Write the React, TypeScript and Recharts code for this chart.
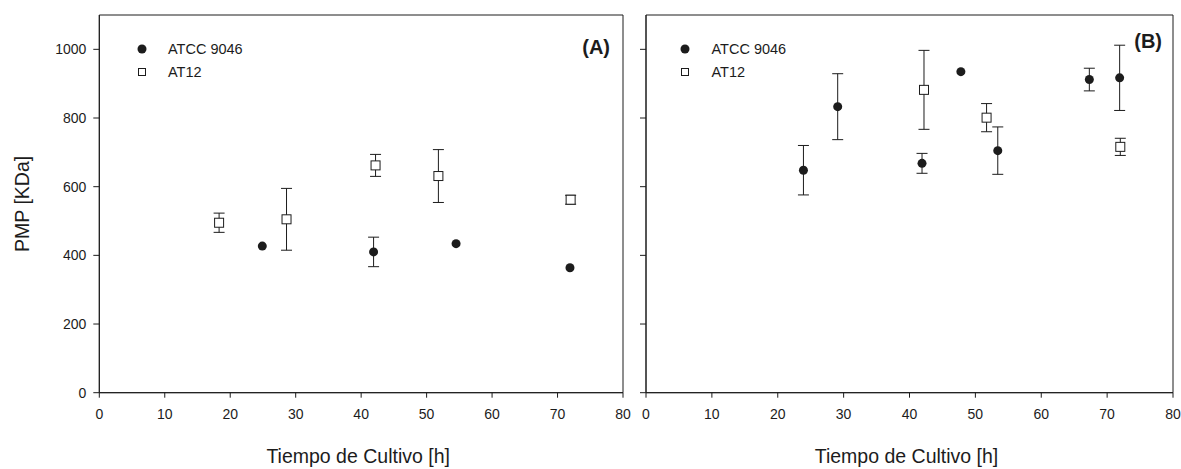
import React from "react";
import {
  ErrorBar,
  Legend,
  ReferenceArea,
  Scatter,
  ScatterChart,
  XAxis,
  YAxis,
} from "recharts";

const FONT = '"Liberation Sans", Arial, Helvetica, sans-serif';
const INK = "#1c1c1c";

// (A) culture time [h], molecular weight [KDa] and SD
const atccTimeA = [24.9, 41.9, 54.5, 71.9];
const atccPmpA = [427, 410, 434, 364];
const atccSdA = [0, 43, 0, 0];

const at12TimeA = [18.3, 28.6, 42.2, 51.8, 72.0];
const at12PmpA = [495, 505, 662, 631, 562];
const at12SdA = [28, 90, 32, 77, 13];

// (B)
const atccTimeB = [23.9, 29.1, 41.9, 47.8, 53.4, 67.3, 71.9];
const atccPmpB = [648, 833, 668, 935, 705, 912, 917];
const atccSdB = [72, 96, 29, 0, 69, 33, 95];

const at12TimeB = [42.2, 51.7, 72.0];
const at12PmpB = [882, 801, 716];
const at12SdB = [115, 41, 25];

const xTicks = [0, 10, 20, 30, 40, 50, 60, 70, 80];
const yTicks = [0, 200, 400, 600, 800, 1000];
const seriesNames = ["ATCC 9046", "AT12"];

type Pt = { t: number; pmp: number; sd: number | null };

const toPoints = (t: number[], pmp: number[], sd: number[]): Pt[] =>
  t.map((x, i) => ({ t: x, pmp: pmp[i], sd: sd[i] || null }));

const Dot = (p: any) => <circle cx={p.cx} cy={p.cy} r={4.5} fill={INK} />;
const Box = (p: any) => (
  <rect
    x={p.cx - 4.5}
    y={p.cy - 4.5}
    width={9}
    height={9}
    fill="#fff"
    stroke={INK}
    strokeWidth={1}
  />
);

function LegendBox() {
  return (
    <div style={{ fontFamily: FONT, fontSize: 14.5, color: INK }}>
      {seriesNames.map((name, i) => (
        <div
          key={name}
          style={{ height: 23, display: "flex", alignItems: "center" }}
        >
          <svg width={10} height={10}>
            {i === 0 ? (
              <circle cx={5} cy={5} r={4.5} fill={INK} />
            ) : (
              <rect x={1.5} y={1.5} width={7} height={7} fill="#fff" stroke={INK} />
            )}
          </svg>
          <span style={{ marginLeft: 21.5, lineHeight: "23px" }}>{name}</span>
        </div>
      ))}
    </div>
  );
}

type PanelProps = {
  left: number;
  width: number;
  yAxisWidth: number;
  marginRight: number;
  showYLabels: boolean;
  tag: string;
  tagBaseline: number;
  tagRightGap: number;
  legendLeft: number;
  atcc: Pt[];
  at12: Pt[];
};

function Panel(props: PanelProps) {
  const tick = { fill: INK, fontSize: 14, fontFamily: FONT };
  return (
    <div style={{ position: "absolute", left: props.left, top: 0 }}>
      <ScatterChart
        width={props.width}
        height={469}
        margin={{ top: 15, right: props.marginRight, bottom: 0, left: 0 }}
      >
        <XAxis
          type="number"
          dataKey="t"
          domain={[0, 80]}
          ticks={xTicks}
          allowDataOverflow
          height={76.3}
          tick={tick}
          tickSize={5}
          tickMargin={11}
          stroke={INK}
          label={{
            content: (lp: any) => {
              const vb = lp.viewBox;
              return (
                <text
                  x={vb.x + vb.width / 2 - 3}
                  y={vb.y + 70.3}
                  textAnchor="middle"
                  fontFamily={FONT}
                  fontSize={19.5}
                  fill={INK}
                >
                  Tiempo de Cultivo [h]
                </text>
              );
            },
          }}
        />
        <YAxis
          type="number"
          dataKey="pmp"
          domain={[0, 1100]}
          ticks={yTicks}
          allowDataOverflow
          width={props.yAxisWidth}
          tick={tick}
          tickSize={6}
          tickMargin={7}
          stroke={INK}
          tickFormatter={(v: number) => (props.showYLabels ? String(v) : "")}
          label={
            props.showYLabels
              ? {
                  content: (lp: any) => {
                    const vb = lp.viewBox;
                    const cx = 22.5;
                    const cy = vb.y + vb.height / 2;
                    return (
                      <text
                        x={cx}
                        y={cy}
                        transform={`rotate(-90 ${cx} ${cy})`}
                        textAnchor="middle"
                        dominantBaseline="central"
                        fontFamily={FONT}
                        fontSize={19.5}
                        fill={INK}
                      >
                        PMP [KDa]
                      </text>
                    );
                  },
                }
              : undefined
          }
        />
        <ReferenceArea
          x1={0}
          x2={80}
          y1={0}
          y2={1100}
          fill="none"
          fillOpacity={0}
          stroke={INK}
          strokeWidth={1}
          label={{
            content: (lp: any) => {
              const vb = lp.viewBox;
              return (
                <text
                  x={vb.x + vb.width - props.tagRightGap}
                  y={props.tagBaseline}
                  textAnchor="end"
                  fontFamily={FONT}
                  fontWeight="bold"
                  fontSize={20}
                  fill={INK}
                >
                  {props.tag}
                </text>
              );
            },
          }}
        />
        <Legend
          layout="horizontal"
          verticalAlign="middle"
          align="center"
          wrapperStyle={{
            left: props.legendLeft,
            top: 37.5,
            width: "auto",
            height: "auto",
          }}
          content={() => <LegendBox />}
        />
        <Scatter
          name={seriesNames[1]}
          data={props.at12}
          shape={Box}
          legendType="square"
          isAnimationActive={false}
        >
          <ErrorBar
            dataKey="sd"
            direction="y"
            width={5.5}
            stroke={INK}
            strokeWidth={1}
          />
        </Scatter>
        <Scatter
          name={seriesNames[0]}
          data={props.atcc}
          shape={Dot}
          legendType="circle"
          isAnimationActive={false}
        >
          <ErrorBar
            dataKey="sd"
            direction="y"
            width={5.5}
            stroke={INK}
            strokeWidth={1}
          />
        </Scatter>
      </ScatterChart>
    </div>
  );
}

export default function App() {
  return (
    <div
      style={{
        position: "absolute",
        left: 0,
        top: 0,
        width: 1181,
        height: 469,
        background: "#fff",
      }}
    >
      <Panel
        left={0}
        width={640}
        yAxisWidth={99.3}
        marginRight={17}
        showYLabels
        tag="(A)"
        tagBaseline={54}
        tagRightGap={13}
        legendLeft={136.5}
        atcc={toPoints(atccTimeA, atccPmpA, atccSdA)}
        at12={toPoints(at12TimeA, at12PmpA, at12SdA)}
      />
      <Panel
        left={623}
        width={558}
        yAxisWidth={23}
        marginRight={8}
        showYLabels={false}
        tag="(B)"
        tagBaseline={48}
        tagRightGap={11}
        legendLeft={57}
        atcc={toPoints(atccTimeB, atccPmpB, atccSdB)}
        at12={toPoints(at12TimeB, at12PmpB, at12SdB)}
      />
    </div>
  );
}
